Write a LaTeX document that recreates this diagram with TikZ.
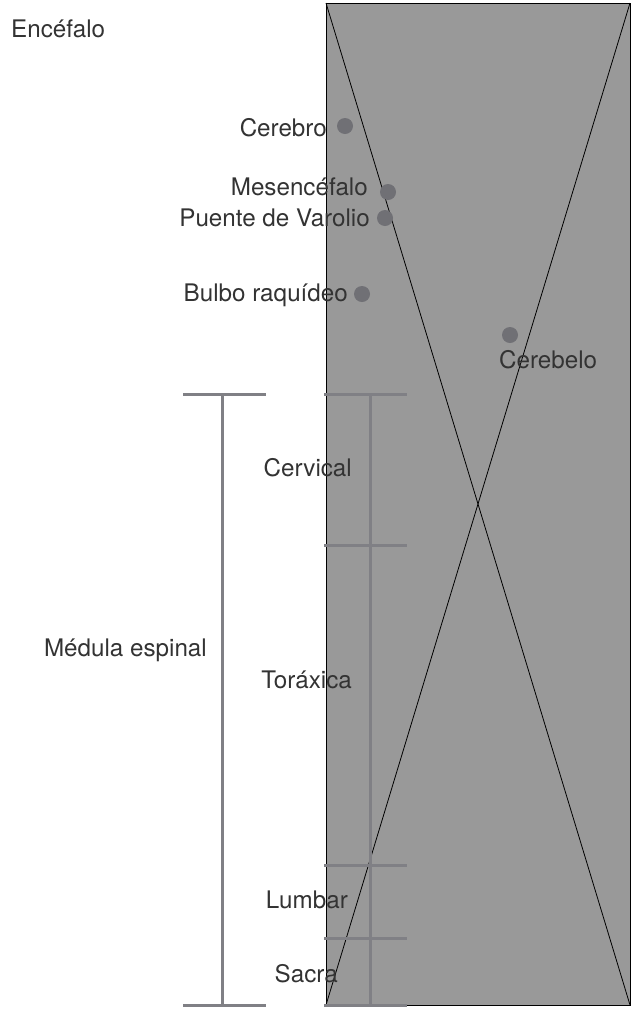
\documentclass[tikz,border=0pt]{standalone}
\usepackage{fontspec}
\setmainfont{TeX Gyre Heros}
\definecolor{caja}{HTML}{999999}
\definecolor{regla}{HTML}{808085}
\definecolor{punto}{HTML}{707075}
\definecolor{texto}{HTML}{333333}
\begin{document}
\begin{tikzpicture}[x=1pt,y=-1pt,
  lbl/.style={inner sep=0pt, text=texto, font=\fontsize{24.2}{28}\selectfont},
  dot/.style={circle, fill=punto, inner sep=0pt, minimum size=16pt},
  regla/.style={draw=regla, line width=3pt}]
\useasboundingbox (0,0) rectangle (632,1010);

% cuerpo
\draw[fill=caja, line width=.8pt] (326,3) coordinate (nw) rectangle (630,1005) coordinate (se);
\coordinate (ne) at (630,3);
\coordinate (sw) at (326,1005);
\draw[line width=.8pt] (nw)--(se);
\draw[line width=.8pt] (ne)--(sw);

% encefalo
\node[lbl, anchor=base west] (enc) at (11,37) {Encéfalo};
\node[dot] (pcer) at (345,126) {};
\node[dot] (pmes) at (388,192) {};
\node[dot] (ppue) at (385,218) {};
\node[dot] (pbul) at (362,294) {};
\node[dot] (pcbl) at (510,335) {};
\node[lbl, anchor=base east] (cer) at (327,136) {Cerebro};
\node[lbl, anchor=base east] (mes) at (368,195) {Mesencéfalo};
\node[lbl, anchor=base east] (pue) at (370,226) {Puente de Varolio};
\node[lbl, anchor=base east] (bul) at (348,301) {Bulbo raquídeo};
\node[lbl, anchor=base west] (cbl) at (499,368) {Cerebelo};

% medula
\coordinate (ma) at (222,394);
\coordinate (mb) at (222,1005);
\draw[regla] (ma)--(mb);
\foreach \y in {394,1005}
  \draw[regla] (183,\y)--(266,\y);
\node[lbl, anchor=base east] (med) at (207,656) {Médula espinal};

\coordinate (sa) at (370,394);
\coordinate (sb) at (370,1007);
\draw[regla] (sa)--(sb);
\foreach \y in {394,545,865,938,1005}
  \draw[regla] (324,\y)--(407,\y);
\node[lbl, anchor=base east] (cerv) at (352,476) {Cervical};
\node[lbl, anchor=base east] (tor) at (352,688) {Toráxica};
\node[lbl, anchor=base east] (lum) at (348,908) {Lumbar};
\node[lbl, anchor=base east] (sac) at (338,982) {Sacra};

\end{tikzpicture}
\end{document}
